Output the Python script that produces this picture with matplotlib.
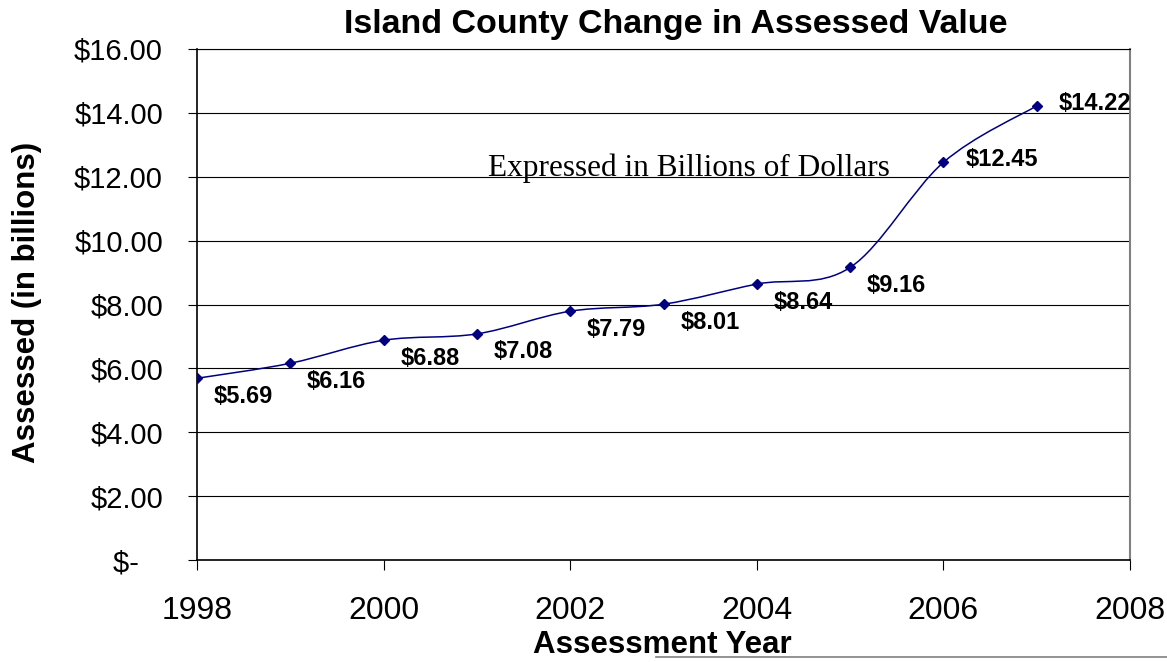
import matplotlib
matplotlib.use("Agg")
import matplotlib.pyplot as plt
import numpy as np
from matplotlib.path import Path
from matplotlib.patches import PathPatch
from matplotlib.lines import Line2D
from matplotlib.ticker import FuncFormatter

# data
years = [1998, 1999, 2000, 2001, 2002, 2003, 2004, 2005, 2006, 2007]
values = [5.69, 6.16, 6.88, 7.08, 7.79, 8.01, 8.64, 9.16, 12.45, 14.22]
labels = ['$5.69', '$6.16', '$6.88', '$7.08', '$7.79', '$8.01', '$8.64', '$9.16', '$12.45', '$14.22']

navy = '#000080'
plt.rcParams['font.family'] = ['Liberation Sans', 'DejaVu Sans']

fig = plt.figure(figsize=(11.67, 6.62), dpi=100)
ax = fig.add_axes([197 / 1167, 1 - 560 / 662, 933 / 1167, 511 / 662])

# smoothed line like Excel (bezier through the points)
pts = np.column_stack([years, values]).astype(float)
verts = [pts[0]]
codes = [Path.MOVETO]
n = len(pts)
for i in range(n - 1):
    p0 = pts[i - 1] if i > 0 else pts[i]
    p1 = pts[i]
    p2 = pts[i + 1]
    p3 = pts[i + 2] if i + 2 < n else pts[i + 1]
    c1 = p1 + (p2 - p0) / 6
    c2 = p2 - (p3 - p1) / 6
    verts += [c1, c2, p2]
    codes += [Path.CURVE4] * 3
ax.add_patch(PathPatch(Path(verts, codes), facecolor='none', edgecolor=navy, lw=1.1, zorder=3))
ax.plot(years, values, linestyle='none', marker='D', markersize=5, color=navy, zorder=4)

# data labels
for i, (x, y) in enumerate(zip(years, values)):
    if i < 8:
        ax.annotate(labels[i], (x, y), xytext=(12, -13), textcoords='offset points',
                    ha='left', va='center', fontsize=17, fontweight='bold')
    else:
        ax.annotate(labels[i], (x, y), xytext=(16, 2), textcoords='offset points',
                    ha='left', va='center', fontsize=17, fontweight='bold')

ax.text(0.312, 0.767, 'Expressed in Billions of Dollars', transform=ax.transAxes,
        fontsize=22.5, family=['Liberation Serif', 'DejaVu Serif'], ha='left', va='center')

ax.set_xlim(1998, 2008)
ax.set_ylim(0, 16)
ax.set_xticks(np.arange(1998, 2009, 2))
ax.set_yticks(np.arange(0, 17, 2))


def money(v, pos):
    if v == 0:
        return '$-   '
    return '$%.2f' % v


ax.yaxis.set_major_formatter(FuncFormatter(money))
ax.grid(axis='y', color='black', lw=0.8)
ax.set_axisbelow(True)
ax.tick_params(axis='x', labelsize=23, length=7, width=0.8, pad=19, direction='out')
ax.tick_params(axis='y', labelsize=21, length=6.5, width=0.8, pad=18, direction='out')
ax.spines['left'].set_linewidth(1.2)
ax.spines['bottom'].set_linewidth(1.2)
ax.spines['top'].set_linewidth(0.8)
ax.spines['right'].set_color('#808080')
ax.spines['right'].set_linewidth(1.5)

fig.text(676 / 1167, 1 - 25 / 662, 'Island County Change in Assessed Value', ha='center', va='center',
         fontsize=24.5, fontweight='bold')
fig.text(662 / 1167, 1 - 645 / 662, 'Assessment Year', ha='center', va='center',
         fontsize=22.5, fontweight='bold')
fig.text(27 / 1167, 1 - 302 / 662, 'Assessed (in billions)', ha='center', va='center',
         rotation=90, fontsize=22.5, fontweight='bold')

fig.add_artist(Line2D([656 / 1167, 1], [1 - 657 / 662] * 2, color='#808080', lw=1.2))

fig.savefig('out.png', dpi=100)
